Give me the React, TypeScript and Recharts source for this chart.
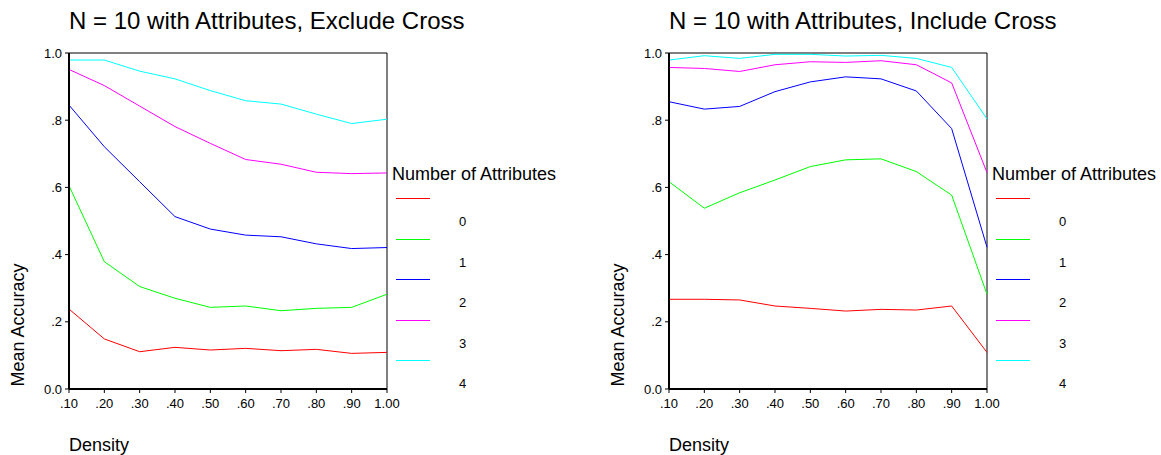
import React from "react";
import { LineChart, Line, XAxis, YAxis, ReferenceLine } from "recharts";

// density levels on the x axis
const densityLabels = [".10", ".20", ".30", ".40", ".50", ".60", ".70", ".80", ".90", "1.00"];

const yTicks = [0, 0.2, 0.4, 0.6, 0.8, 1.0];
const yTickLabels = ["0.0", ".2", ".4", ".6", ".8", "1.0"];

const attributeNames = ["0", "1", "2", "3", "4"];
const attributeColors = ["#ff0000", "#00ff00", "#0000ff", "#ff00ff", "#00ffff"];

// mean accuracy, cross excluded
const exclude0 = [0.238, 0.149, 0.111, 0.124, 0.116, 0.121, 0.114, 0.118, 0.106, 0.109];
const exclude1 = [0.605, 0.379, 0.305, 0.27, 0.243, 0.247, 0.233, 0.24, 0.243, 0.282];
const exclude2 = [0.845, 0.721, 0.617, 0.513, 0.476, 0.458, 0.453, 0.432, 0.418, 0.421];
const exclude3 = [0.951, 0.903, 0.842, 0.781, 0.731, 0.683, 0.669, 0.645, 0.641, 0.643];
const exclude4 = [0.979, 0.979, 0.946, 0.923, 0.888, 0.858, 0.848, 0.818, 0.79, 0.803];

// mean accuracy, cross included
const include0 = [0.267, 0.267, 0.265, 0.247, 0.24, 0.232, 0.237, 0.235, 0.247, 0.109];
const include1 = [0.617, 0.538, 0.584, 0.622, 0.662, 0.682, 0.685, 0.647, 0.577, 0.282];
const include2 = [0.855, 0.833, 0.841, 0.885, 0.914, 0.929, 0.923, 0.887, 0.775, 0.422];
const include3 = [0.957, 0.954, 0.945, 0.965, 0.974, 0.972, 0.977, 0.965, 0.911, 0.644];
const include4 = [0.979, 0.992, 0.984, 0.996, 0.996, 0.991, 0.993, 0.984, 0.957, 0.804];

const FONT = "'Liberation Sans', Arial, sans-serif";

function buildRows(series: number[][]) {
  return densityLabels.map((label, i) => {
    const row: Record<string, string | number> = { density: label };
    series.forEach((s, k) => {
      row[`a${k}`] = s[i];
    });
    return row;
  });
}

const excludeRows = buildRows([exclude0, exclude1, exclude2, exclude3, exclude4]);
const includeRows = buildRows([include0, include1, include2, include3, include4]);

function AttributeLegend() {
  return (
    <div style={{ position: "absolute", left: 392, top: 164, width: 180, height: 240 }}>
      <div style={{ fontSize: 18, lineHeight: "20px", whiteSpace: "nowrap" }}>Number of Attributes</div>
      <svg width={180} height={230} style={{ position: "absolute", left: 0, top: 0 }} shapeRendering="crispEdges">
        {attributeNames.map((name, i) => {
          const y = Math.round(34 + i * 40.5);
          return (
            <g key={name}>
              <rect x={4} y={y} width={34} height={1} fill={attributeColors[i]} />
              <text x={67} y={y + 23} dy="0.355em" fontSize={13} fontFamily={FONT} fill="#000">
                {name}
              </text>
            </g>
          );
        })}
      </svg>
    </div>
  );
}

function Panel({ title, rows, left }: { title: string; rows: Record<string, string | number>[]; left: number }) {
  return (
    <div style={{ position: "absolute", left, top: 0, width: 580, height: 455 }}>
      <div style={{ position: "absolute", left: 69, top: 7, fontSize: 24, whiteSpace: "nowrap" }}>{title}</div>
      <LineChart width={580} height={455} data={rows} margin={{ top: 53, right: 193, bottom: 36, left: 9 }}>
        <XAxis
          dataKey="density"
          height={30}
          interval={0}
          tick={{ fontSize: 13, fill: "#000", fontFamily: FONT }}
          tickLine={{ stroke: "#000" }}
          tickSize={4}
          tickMargin={6}
          axisLine={{ stroke: "#000", strokeWidth: 2 }}
        />
        <YAxis
          type="number"
          domain={[0, 1]}
          ticks={yTicks}
          width={60}
          interval={0}
          tickFormatter={(v: number) => yTickLabels[yTicks.indexOf(v)] ?? String(v)}
          tick={{ fontSize: 13, fill: "#000", fontFamily: FONT }}
          tickLine={{ stroke: "#000" }}
          tickSize={4}
          tickMargin={3}
          axisLine={{ stroke: "#000", strokeWidth: 2 }}
        />
        <ReferenceLine y={1} stroke="#000" strokeWidth={1} />
        <ReferenceLine x="1.00" stroke="#000" strokeWidth={1} />
        {attributeNames.map((name, k) => (
          <Line
            key={name}
            type="linear"
            dataKey={`a${k}`}
            name={name}
            stroke={attributeColors[k]}
            strokeWidth={1}
            dot={false}
            isAnimationActive={false}
          />
        ))}
      </LineChart>
      <AttributeLegend />
      <div
        style={{
          position: "absolute",
          left: 18,
          top: 325,
          fontSize: 18,
          whiteSpace: "nowrap",
          transform: "translate(-50%, -50%) rotate(-90deg)",
        }}
      >
        Mean Accuracy
      </div>
      <div style={{ position: "absolute", left: 69, top: 435, fontSize: 18, lineHeight: "20px", whiteSpace: "nowrap" }}>
        Density
      </div>
    </div>
  );
}

export default function App() {
  return (
    <div
      style={{
        position: "absolute",
        left: 0,
        top: 0,
        width: 1161,
        height: 455,
        overflow: "hidden",
        background: "#fff",
        fontFamily: FONT,
        color: "#000",
      }}
    >
      <Panel title="N = 10 with Attributes, Exclude Cross" rows={excludeRows} left={0} />
      <Panel title="N = 10 with Attributes, Include Cross" rows={includeRows} left={600} />
    </div>
  );
}
